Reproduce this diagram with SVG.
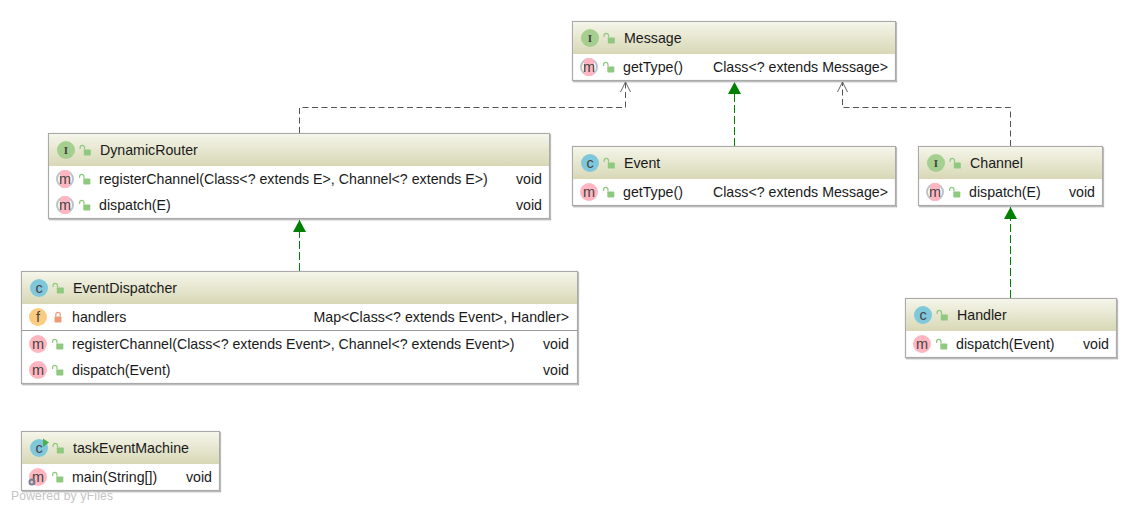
<svg xmlns="http://www.w3.org/2000/svg" width="1138" height="512" viewBox="0 0 1138 512">
<style>
text{font-family:"Liberation Sans",Arial,sans-serif;font-size:14.2px;fill:#1a1a1a}
.box{fill:#fff;stroke:#aaa;stroke-width:1.2}
.hd{fill:url(#hg)}
.sep{stroke:#9a9a9a;stroke-width:1}
text.ic{font-size:14.5px;text-anchor:middle;fill:#444}
text.ii{font-family:"Liberation Serif",serif;font-weight:bold;font-size:11px;text-anchor:middle;fill:#444}
.end{text-anchor:end}
.gr{fill:none;stroke:#008000;stroke-width:1;stroke-dasharray:8 3}
.bk{fill:none;stroke:#555;stroke-width:1;stroke-dasharray:6 3.500}
text.wm{font-size:12px;fill:#c4c4c4;letter-spacing:.25px}
</style>
<defs>
<linearGradient id="hg" x1="0" y1="0" x2="0" y2="1"><stop offset="0" stop-color="#f5f5ea"/><stop offset="1" stop-color="#d8d8b6"/></linearGradient>
<filter id="sh" x="-2%" y="-5%" width="104%" height="112%"><feDropShadow dx="1" dy="1.2" stdDeviation=".7" flood-color="#000" flood-opacity=".35"/></filter>
<marker id="tri" markerUnits="userSpaceOnUse" markerWidth="13" markerHeight="13" refX="12" refY="6.500" orient="auto"><path d="M0 0L12 6.500L0 13Z" fill="#008000"/></marker>
<marker id="open" markerUnits="userSpaceOnUse" markerWidth="12" markerHeight="12" refX="11" refY="6" orient="auto"><path d="M1 1L11 6L1 11" fill="none" stroke="#666"/></marker>
<g id="lk"><rect x="-1.200" y="-0.500" width="7" height="6" rx=".8" fill="#8fc97f"/><path d="M-0.500 -0.500V-2.500A2.200 2.200 0 0 0 -4.900 -2.500V-1" fill="none" stroke="#8fc97f" stroke-width="1.2"/></g>
<g id="lkc"><rect x="-3.500" y="-0.500" width="7" height="6" rx=".8" fill="#ef9a76"/><path d="M-2.200 -0.500V-2.500A2.200 2.200 0 0 1 2.200 -2.500V-0.500" fill="none" stroke="#ef9a76" stroke-width="1.2"/></g>
<g id="cI"><circle r="9" fill="#a5cf8e"/></g>
<g id="cC"><circle r="9" fill="#7fc8dc"/></g>
<g id="cM"><circle r="9" fill="#ffb6c1"/></g>
<g id="cF"><circle r="9" fill="#fbcb80"/></g>
<g id="cA"><circle r="8" fill="#fff" stroke="#bcc2cc" stroke-width="2"/><rect x="-5" y="-9" width="10" height="18" rx="4" fill="#ffb6c1"/></g>
</defs>
<rect width="1138" height="512" fill="#fff"/>

<g id="connectors">
<path class="bk" d="M299.500 133V107.500H625.500V82" marker-end="url(#open)"/>
<path class="bk" d="M1010.500 146V107.500H842.500V82" marker-end="url(#open)"/>
<path class="gr" d="M734.500 146V82" marker-end="url(#tri)"/>
<path class="gr" d="M299.500 271V220" marker-end="url(#tri)"/>
<path class="gr" d="M1010.500 298V207" marker-end="url(#tri)"/>
</g>

<g id="message">
<rect class="box" x="572.500" y="21.500" width="323" height="59" filter="url(#sh)"/><rect class="hd" x="573" y="22" width="322" height="32"/>
<use href="#cI" x="590" y="38"/><text class="ii" x="590" y="42">I</text><use href="#lk" x="609" y="38"/>
<text x="624" y="43">Message</text>
<use href="#cA" x="589" y="67"/><text class="ic" x="589" y="71.500">m</text><use href="#lk" x="608.500" y="67"/>
<text x="623" y="72">getType()</text><text class="end" x="888" y="72">Class&lt;? extends Message&gt;</text>
</g>

<g id="event">
<rect class="box" x="572.500" y="146.500" width="323" height="59" filter="url(#sh)"/><rect class="hd" x="573" y="147" width="322" height="32"/>
<use href="#cC" x="590" y="163"/><text class="ic" x="590" y="167.500">c</text><use href="#lk" x="609" y="163"/>
<text x="624" y="168">Event</text>
<use href="#cM" x="589" y="192"/><text class="ic" x="589" y="196.500">m</text><use href="#lk" x="608.500" y="192"/>
<text x="623" y="197">getType()</text><text class="end" x="888" y="197">Class&lt;? extends Message&gt;</text>
</g>

<g id="channel">
<rect class="box" x="918.500" y="146.500" width="184" height="59" filter="url(#sh)"/><rect class="hd" x="919" y="147" width="183" height="32"/>
<use href="#cI" x="936" y="163"/><text class="ii" x="936" y="167">I</text><use href="#lk" x="955" y="163"/>
<text x="970" y="168">Channel</text>
<use href="#cA" x="935" y="192"/><text class="ic" x="935" y="196.500">m</text><use href="#lk" x="954.500" y="192"/>
<text x="969" y="197">dispatch(E)</text><text class="end" x="1095" y="197">void</text>
</g>

<g id="dynamicRouter">
<rect class="box" x="48.500" y="133.500" width="501" height="85" filter="url(#sh)"/><rect class="hd" x="49" y="134" width="500" height="32"/>
<use href="#cI" x="66" y="150"/><text class="ii" x="66" y="154">I</text><use href="#lk" x="85" y="150"/>
<text x="100" y="155">DynamicRouter</text>
<use href="#cA" x="65" y="179"/><text class="ic" x="65" y="183.500">m</text><use href="#lk" x="84.500" y="179"/>
<text x="99" y="184">registerChannel(Class&lt;? extends E&gt;, Channel&lt;? extends E&gt;)</text><text class="end" x="542" y="184">void</text>
<use href="#cA" x="65" y="205"/><text class="ic" x="65" y="209.500">m</text><use href="#lk" x="84.500" y="205"/>
<text x="99" y="210">dispatch(E)</text><text class="end" x="542" y="210">void</text>
</g>

<g id="eventDispatcher">
<rect class="box" x="21.500" y="271.500" width="556" height="112" filter="url(#sh)"/><rect class="hd" x="22" y="272" width="555" height="32"/>
<use href="#cC" x="39" y="288"/><text class="ic" x="39" y="292.500">c</text><use href="#lk" x="58" y="288"/>
<text x="73" y="293">EventDispatcher</text>
<use href="#cF" x="38" y="317"/><text class="ic" x="38" y="321.500">f</text><use href="#lkc" x="58" y="317"/>
<text x="72" y="322">handlers</text><text class="end" x="569" y="322">Map&lt;Class&lt;? extends Event&gt;, Handler&gt;</text>
<path class="sep" d="M22 330.500H577"/>
<use href="#cM" x="38" y="344"/><text class="ic" x="38" y="348.500">m</text><use href="#lk" x="57.500" y="344"/>
<text x="72" y="349">registerChannel(Class&lt;? extends Event&gt;, Channel&lt;? extends Event&gt;)</text><text class="end" x="569" y="349">void</text>
<use href="#cM" x="38" y="370"/><text class="ic" x="38" y="374.500">m</text><use href="#lk" x="57.500" y="370"/>
<text x="72" y="375">dispatch(Event)</text><text class="end" x="569" y="375">void</text>
</g>

<g id="handler">
<rect class="box" x="905.500" y="298.500" width="211" height="59" filter="url(#sh)"/><rect class="hd" x="906" y="299" width="210" height="32"/>
<use href="#cC" x="923" y="315"/><text class="ic" x="923" y="319.500">c</text><use href="#lk" x="942" y="315"/>
<text x="957" y="320">Handler</text>
<use href="#cM" x="922" y="344"/><text class="ic" x="922" y="348.500">m</text><use href="#lk" x="941.500" y="344"/>
<text x="956" y="349">dispatch(Event)</text><text class="end" x="1109" y="349">void</text>
</g>

<g id="taskEventMachine">
<rect class="box" x="21.500" y="431.500" width="198" height="59" filter="url(#sh)"/><rect class="hd" x="22" y="432" width="197" height="32"/>
<use href="#cC" x="39" y="448"/><text class="ic" x="39" y="452.500">c</text><path d="M43 438.500L49 442.500L43 447Z" fill="#4caf50"/><use href="#lk" x="58" y="448"/>
<text x="73" y="453">taskEventMachine</text>
<use href="#cM" x="38" y="477"/><text class="ic" x="38" y="481.500">m</text><circle cx="32" cy="482" r="2.500" fill="none" stroke="#6f7f8f" stroke-width="2"/><use href="#lk" x="57.500" y="477"/>
<text x="72" y="482">main(String[])</text><text class="end" x="212" y="482">void</text>
</g>

<text class="wm" x="11" y="500">Powered by yFiles</text>
</svg>
